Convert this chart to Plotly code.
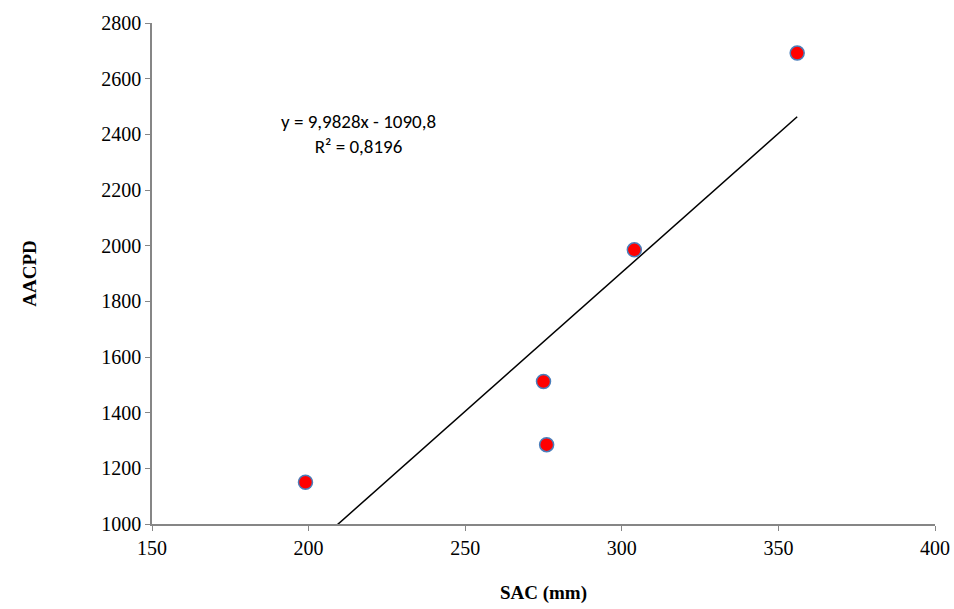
import numpy as np
import plotly.graph_objects as go

# Data
sac = [199, 275, 276, 304, 356]
aacpd = [1150, 1512, 1285, 1985, 2692]
slope = 9.9828
intercept = -1090.8
eq_text = "y = 9,9828x - 1090,8<br>R² = 0,8196"

x_line = np.array([min(sac), max(sac)])
y_line = slope * x_line + intercept

SERIF = "Liberation Serif, Times New Roman, serif"

fig = go.Figure()
fig.add_trace(go.Scatter(x=x_line, y=y_line, mode="lines",
                         line=dict(color="black", width=1.5), showlegend=False,
                         hoverinfo="skip"))
fig.add_trace(go.Scatter(x=sac, y=aacpd, mode="markers",
                         marker=dict(color="#ff0000", size=14,
                                     line=dict(color="#4a7ebb", width=1.5)),
                         showlegend=False))

fig.add_annotation(x=216, y=2400, xref="x", yref="y", text=eq_text,
                   showarrow=False, align="center",
                   font=dict(family="Carlito, Open Sans, sans-serif", size=19, color="black"))

axis_common = dict(showgrid=False, zeroline=False, showline=True,
                   linecolor="#868686", linewidth=1.5, ticks="outside",
                   tickcolor="#868686", ticklen=5, automargin=False,
                   tickfont=dict(family=SERIF, size=20, color="black"))

fig.update_xaxes(range=[150, 400], tickvals=[150, 200, 250, 300, 350, 400],
                 title=dict(text="<b>SAC (mm)</b>", standoff=28,
                            font=dict(family=SERIF, size=19, color="black")),
                 **axis_common)
fig.update_yaxes(range=[1000, 2800], dtick=200,
                 title=dict(text="<b>AACPD</b>", standoff=60,
                            font=dict(family=SERIF, size=19, color="black")),
                 **axis_common)

fig.update_layout(width=954, height=609, plot_bgcolor="white", paper_bgcolor="white",
                  margin=dict(l=152, r=19, t=23, b=85))

fig.write_html("out.html")
